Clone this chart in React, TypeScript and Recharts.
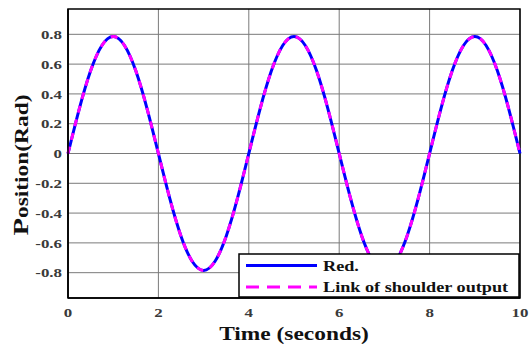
import { LineChart, Line, XAxis, YAxis, CartesianGrid, ReferenceArea } from "recharts";

// time samples (s) and joint position (rad)
const timeSec = [
  0, 0.25, 0.5, 0.75, 1, 1.25, 1.5, 1.75, 2, 2.25, 2.5, 2.75, 3, 3.25, 3.5, 3.75,
  4, 4.25, 4.5, 4.75, 5, 5.25, 5.5, 5.75, 6, 6.25, 6.5, 6.75, 7, 7.25, 7.5, 7.75,
  8, 8.25, 8.5, 8.75, 9, 9.25, 9.5, 9.75, 10,
];
const refPos = [
  0, 0.3, 0.555, 0.725, 0.785, 0.725, 0.555, 0.3, 0, -0.3, -0.555, -0.725, -0.785, -0.725, -0.555, -0.3,
  0, 0.3, 0.555, 0.725, 0.785, 0.725, 0.555, 0.3, 0, -0.3, -0.555, -0.725, -0.785, -0.725, -0.555, -0.3,
  0, 0.3, 0.555, 0.725, 0.785, 0.725, 0.555, 0.3, 0,
];
const shoulderPos = [
  0, 0.3, 0.555, 0.725, 0.785, 0.725, 0.555, 0.3, 0, -0.3, -0.555, -0.725, -0.785, -0.725, -0.555, -0.3,
  0, 0.3, 0.555, 0.725, 0.785, 0.725, 0.555, 0.3, 0, -0.3, -0.555, -0.725, -0.785, -0.725, -0.555, -0.3,
  0, 0.3, 0.555, 0.725, 0.785, 0.725, 0.555, 0.3, 0,
];
const xTicks = [0, 2, 4, 6, 8, 10];
const yTicks = [-0.8, -0.6, -0.4, -0.2, 0, 0.2, 0.4, 0.6, 0.8];

const data = timeSec.map((t, i) => ({ t, ref: refPos[i], out: shoulderPos[i] }));

const FONT = "'Liberation Serif', 'Times New Roman', serif";
// the original figure's text is stretched sideways
const SX = 1.3;

const fmtY = (v: number) => (v === 0 ? "0" : v.toFixed(1));

function XTick(props: any) {
  const { x, y, payload } = props;
  return (
    <text
      transform={`translate(${x},${y}) scale(${SX},1)`}
      textAnchor="middle"
      dy="0.71em"
      fontSize={13}
      fontWeight={700}
      fontFamily={FONT}
      fill="#3a3a3a"
    >
      {payload.value}
    </text>
  );
}

function YTick(props: any) {
  const { x, y, payload } = props;
  return (
    <text
      transform={`translate(${x},${y}) scale(${SX},1)`}
      textAnchor="end"
      dy="0.355em"
      fontSize={13}
      fontWeight={700}
      fontFamily={FONT}
      fill="#3a3a3a"
    >
      {fmtY(payload.value)}
    </text>
  );
}

function LegendBox() {
  const txt = { fontFamily: FONT, fontWeight: 700, fontSize: 14, fill: "#111" };
  return (
    <svg
      width={282}
      height={45}
      style={{ position: "absolute", left: 238, top: 253 }}
    >
      <rect x={1} y={1} width={280} height={43} fill="#fff" stroke="#000" strokeWidth={1.5} />
      <line x1={8} x2={79} y1={12.5} y2={12.5} stroke="#0000ff" strokeWidth={3} />
      <text transform={`translate(85,17.5) scale(${SX},1)`} {...txt}>
        Red.
      </text>
      <line x1={8} x2={79} y1={34} y2={34} stroke="#ff00ff" strokeWidth={3} strokeDasharray="13 8" />
      <text transform={`translate(85,39) scale(${SX},1)`} {...txt}>
        Link of shoulder output
      </text>
    </svg>
  );
}

export default function App() {
  return (
    <div style={{ position: "absolute", left: 0, top: 0, width: 530, height: 347, background: "#fff" }}>
      <LineChart width={530} height={347} data={data} margin={{ top: 9, right: 10, bottom: 0, left: 0 }}>
        <CartesianGrid stroke="#7a7a7a" strokeWidth={1} horizontalValues={yTicks} verticalValues={xTicks} />
        <XAxis
          dataKey="t"
          type="number"
          domain={[0, 10]}
          ticks={xTicks}
          height={49}
          tickLine={false}
          axisLine={{ stroke: "#000", strokeWidth: 1.5 }}
          tick={<XTick />}
          tickMargin={4}
          label={{
            content: () => (
              <text
                transform={`translate(294,340) scale(${SX},1)`}
                textAnchor="middle"
                fontFamily={FONT}
                fontWeight={700}
                fontSize={18}
                fill="#111"
              >
                Time (seconds)
              </text>
            ),
          }}
        />
        <YAxis
          type="number"
          domain={[-0.97, 0.97]}
          ticks={yTicks}
          width={68}
          tickLine={false}
          axisLine={{ stroke: "#000", strokeWidth: 1.5 }}
          tick={<YTick />}
          tickMargin={0}
          label={{
            content: () => (
              <text
                transform={`translate(28,165) rotate(-90) scale(${SX},1)`}
                textAnchor="middle"
                fontFamily={FONT}
                fontWeight={700}
                fill="#111"
                fontSize={18}
              >
                <tspan fontSize={22}>P</tspan>osition(Rad)
              </text>
            ),
          }}
        />
        <ReferenceArea x1={0} x2={10} y1={-0.97} y2={0.97} fill="none" stroke="#000" strokeWidth={1.5} />
        <Line dataKey="ref" type="natural" stroke="#0000ff" strokeWidth={3} dot={false} isAnimationActive={false} />
        <Line
          dataKey="out"
          type="natural"
          stroke="#ff00ff"
          strokeWidth={3}
          strokeDasharray="7 7"
          dot={false}
          isAnimationActive={false}
        />
      </LineChart>
      <LegendBox />
    </div>
  );
}
